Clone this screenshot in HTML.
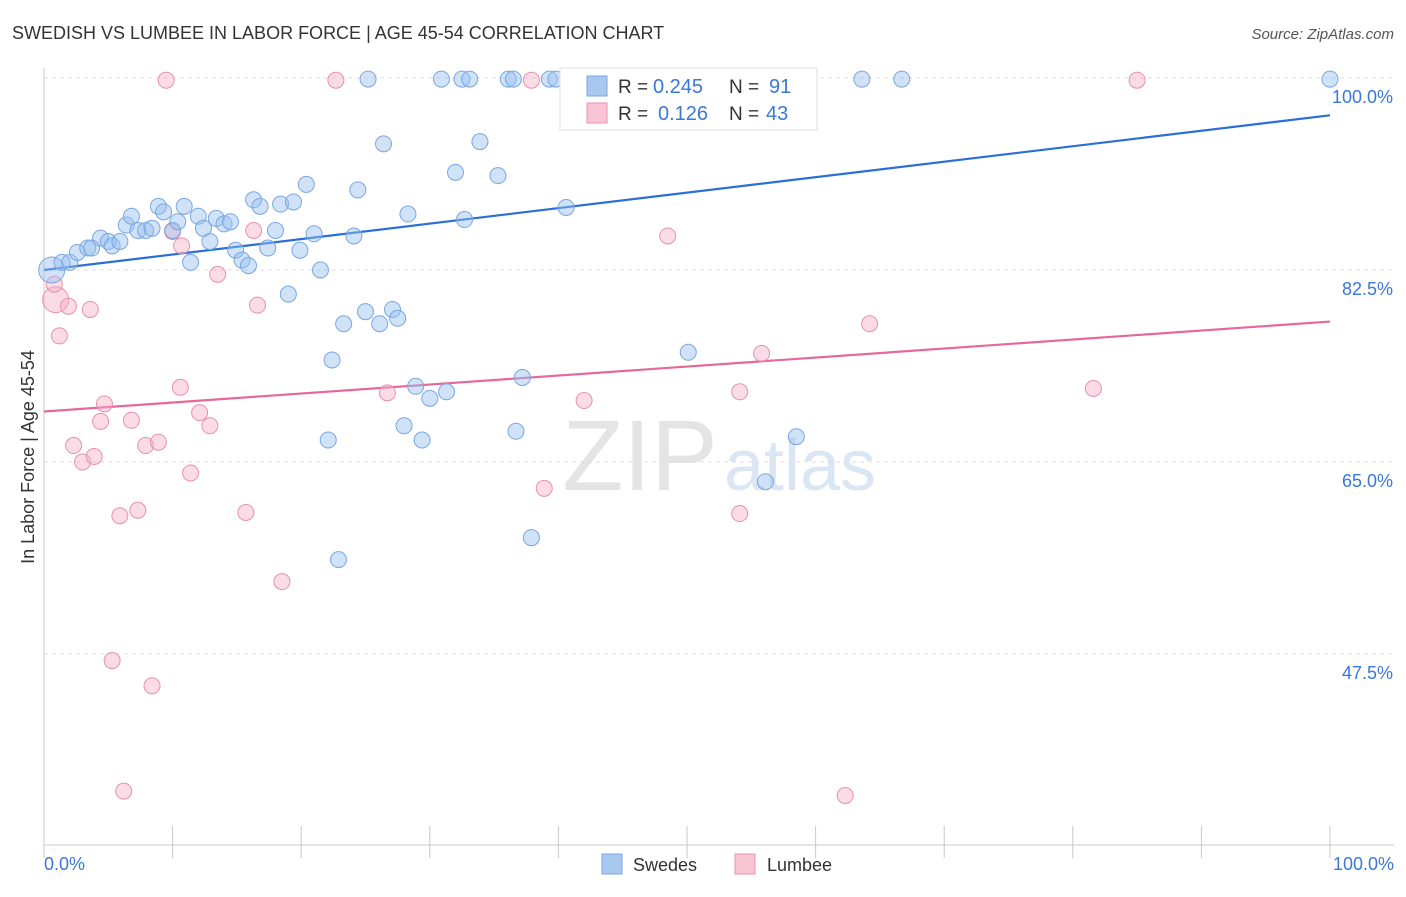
<!DOCTYPE html>
<html><head><meta charset="utf-8"><style>
body{margin:0;background:#fff;font-family:"Liberation Sans",sans-serif;}
svg text{font-family:"Liberation Sans",sans-serif;}
</style></head><body>
<svg id="chart" width="1406" height="892">
<text x="12" y="39" font-size="18" fill="#333">SWEDISH VS LUMBEE IN LABOR FORCE | AGE 45-54 CORRELATION CHART</text>
<text x="1394" y="39" font-size="15" fill="#555" font-style="italic" text-anchor="end">Source: ZipAtlas.com</text>
<text x="640" y="490" font-size="100" fill="#e4e4e4" font-family="Liberation Serif" text-anchor="middle">ZIP</text>
<text x="800" y="490" font-size="72" fill="#dbe6f5" text-anchor="middle">atlas</text>
<g id="grid"></g><g id="axes"></g><g id="lines"></g><g id="pts"></g>
<text transform="translate(34,457) rotate(-90)" font-size="18" fill="#333" text-anchor="middle">In Labor Force | Age 45-54</text>
<text x="44" y="870" font-size="18" fill="#3a78d8">0.0%</text>
<text x="1394" y="870" font-size="18" fill="#3a78d8" text-anchor="end">100.0%</text>
<g>
<rect x="560" y="68" width="257" height="62" fill="#fff" stroke="#ddd"/>
<rect x="587" y="76" width="20" height="20" fill="#a8c8f0" stroke="#7aa6e0"/>
<rect x="587" y="103" width="20" height="20" fill="#f8c4d4" stroke="#e890b0"/>
<text x="618" y="93" font-size="19" fill="#333">R =</text>
<text x="653" y="93" font-size="20" fill="#3a78d8">0.245</text>
<text x="729" y="93" font-size="19" fill="#333">N =</text>
<text x="769" y="93" font-size="20" fill="#3a78d8">91</text>
<text x="618" y="120" font-size="19" fill="#333">R =</text>
<text x="658" y="120" font-size="20" fill="#3a78d8">0.126</text>
<text x="729" y="120" font-size="19" fill="#333">N =</text>
<text x="766" y="120" font-size="20" fill="#3a78d8">43</text>
</g>
<g>
<rect x="602" y="854" width="20" height="20" fill="#a8c8f0" stroke="#7aa6e0"/>
<text x="633" y="871" font-size="18" fill="#333">Swedes</text>
<rect x="735" y="854" width="20" height="20" fill="#f8c4d4" stroke="#e890b0"/>
<text x="767" y="871" font-size="18" fill="#333">Lumbee</text>
</g>
</svg>
<script>
const yTicks=[100,82.5,65,47.5];
const yTickLabels=["100.0%","82.5%","65.0%","47.5%"];
const swedesX=[0.6,1.4,2.0,2.6,3.4,3.7,4.4,5.0,5.3,5.9,6.4,6.8,7.3,7.9,8.4,8.9,9.3,10.0,10.4,10.9,11.4,12.0,12.4,12.9,13.4,14.0,14.5,14.9,15.4,15.9,16.3,16.8,17.4,18.0,18.4,19.0,19.4,19.9,20.4,21.0,21.5,22.1,22.4,22.9,23.3,24.1,24.4,25.0,25.2,26.1,26.4,27.1,27.5,28.3,28.0,28.9,29.4,30.0,30.9,31.3,32.0,32.5,32.7,33.1,33.9,35.3,36.1,36.5,36.7,37.2,37.9,39.3,39.8,40.6,41.2,43.1,50.1,54.0,56.1,56.6,58.5,63.6,66.7,100];
const swedesY=[82.5,83.2,83.2,84.1,84.5,84.5,85.4,85.1,84.7,85.1,86.6,87.4,86.1,86.1,86.3,88.3,87.8,86.1,86.9,88.3,83.2,87.4,86.3,85.1,87.2,86.7,86.9,84.3,83.4,82.9,88.9,88.3,84.5,86.1,88.5,80.3,88.7,84.3,90.3,85.8,82.5,67.0,74.3,56.1,77.6,85.6,89.8,78.7,99.9,77.6,94.0,78.9,78.1,87.6,68.3,71.9,67.0,70.8,99.9,71.4,91.4,99.9,87.1,99.9,94.2,91.1,99.9,99.9,67.8,72.7,58.1,99.9,99.9,88.2,99.9,99.9,75.0,99.9,63.2,99.9,67.3,99.9,99.9,99.9];
const lumbeeX=[0.9,0.8,1.2,1.9,2.3,3.0,3.6,3.9,4.7,4.4,5.9,6.8,7.3,7.9,8.4,8.9,9.5,10.0,10.6,10.7,11.4,12.1,12.9,13.5,15.7,16.3,16.6,18.5,22.7,26.7,5.3,6.2,37.9,38.9,42.0,48.5,54.1,54.1,55.8,62.3,64.2,81.6,85.0];
const lumbeeY=[79.8,81.2,76.5,79.2,66.5,65.0,78.9,65.5,70.3,68.7,60.1,68.8,60.6,66.5,44.6,66.8,99.8,86.0,71.8,84.7,64.0,69.5,68.3,82.1,60.4,86.1,79.3,54.1,99.8,71.3,46.9,35.0,99.8,62.6,70.6,85.6,71.4,60.3,74.9,34.6,77.6,71.7,99.8];
const trendSwedes=[82.5,96.6];
const trendLumbee=[69.6,77.8];
const NS="http://www.w3.org/2000/svg";
const X=v=>44+v*12.86, Y=v=>78+(100-v)*10.971;
function mk(p,t,a){const e=document.createElementNS(NS,t);for(const k in a)e.setAttribute(k,a[k]);p.appendChild(e);return e;}
const grid=document.getElementById('grid'),axes=document.getElementById('axes'),lines=document.getElementById('lines'),pts=document.getElementById('pts');
yTicks.forEach((t,i)=>{
 const g=mk(grid,'line',{x1:44,x2:1394,y1:Y(t),y2:Y(t),stroke:'#ddd','stroke-dasharray':'4,4'});
 
 
 const l=mk(grid,'text',{x:1393,y:Y(t)+25,'font-size':18,fill:'#3a78d8','text-anchor':'end'});
 l.textContent=yTickLabels[i];
 
 
});
mk(axes,'line',{x1:44,x2:44,y1:68,y2:845,stroke:'#c8c8c8'});
mk(axes,'line',{x1:44,x2:1394,y1:845,y2:845,stroke:'#c8c8c8'});
for(let i=0;i<=10;i++){const t=mk(axes,'line',{x1:X(i*10),x2:X(i*10),y1:826,y2:858,stroke:'#c8c8c8'});
 
 }
const lb=mk(lines,'line',{x1:X(0),y1:Y(trendSwedes[0]),x2:X(100),y2:Y(trendSwedes[1]),stroke:'#2a6fd6','stroke-width':2.2});


const lp=mk(lines,'line',{x1:X(0),y1:Y(trendLumbee[0]),x2:X(100),y2:Y(trendLumbee[1]),stroke:'#e4689a','stroke-width':2.2});


lumbeeX.forEach((x,i)=>{const c=mk(pts,'circle',{cx:X(x),cy:Y(lumbeeY[i]),r:i==0?13:8,fill:'rgba(245,175,200,0.45)',stroke:'#e890b0','stroke-width':1});
 
 });
swedesX.forEach((x,i)=>{const c=mk(pts,'circle',{cx:X(x),cy:Y(swedesY[i]),r:i==0?13:8,fill:'rgba(150,190,240,0.45)',stroke:'#7aa6e0','stroke-width':1});
 
 });
</script>
</body></html>
